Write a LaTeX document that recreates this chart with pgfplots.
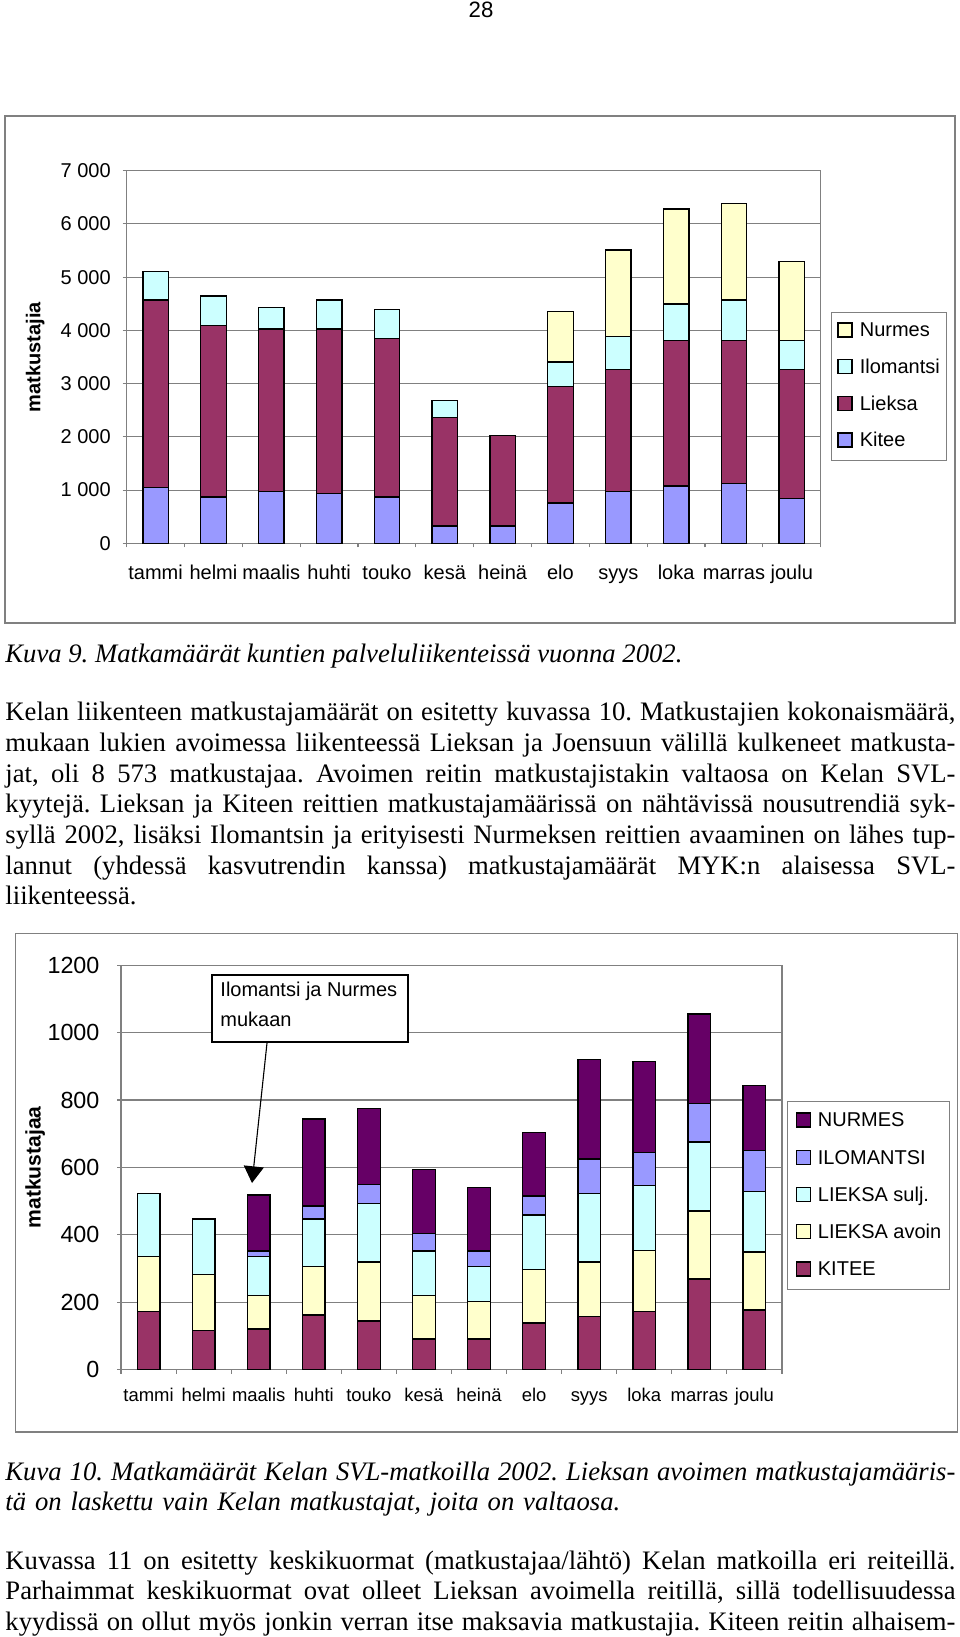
\documentclass[border=0pt]{standalone}
\usepackage{fontspec}
\setmainfont{Liberation Serif}
\setsansfont{Liberation Sans}
\usepackage{pgfplots}
\pgfplotsset{compat=1.18}
\usepackage{pgfplotstable}
\usetikzlibrary{arrows.meta}

\definecolor{xlblue}{HTML}{9999FF}
\definecolor{xlplum}{HTML}{993366}
\definecolor{xlcyan}{HTML}{CCFFFF}
\definecolor{xlcream}{HTML}{FFFFCC}
\definecolor{xlpurple}{HTML}{660066}
\definecolor{xlgray}{HTML}{808080}

% Kuva 9: kuntien palveluliikenne 2002
\pgfplotstableread{
m kitee lieksa ilomantsi nurmes
0  1046 3525 538 0
1  870  3225 551 0
2  977  3049 401 0
3  933  3093 545 0
4  870  2974 545 0
5  326  2034 326 0
6  326  1702 0   0
7  758  2185 463 945
8  977  2291 614 1628
9  1077 2736 682 1785
10 1121 2692 758 1809
11 839  2429 545 1484
}\kunnat

% Kuva 10: Kelan SVL-matkat 2002
\pgfplotstableread{
m kitee avoin sulj ilomantsi nurmes
0  172 164 186 0   0
1  115 168 164 0   0
2  120 99  117 16  166
3  162 144 141 38  259
4  144 175 174 57  224
5  91  128 133 51  191
6  91  111 104 46  189
7  138 158 163 56  189
8  157 162 203 103 295
9  173 181 192 99  269
10 269 202 204 115 265
11 177 172 179 123 193
}\kela

\pgfplotsset{
  excelbars/.style={
    scale only axis, ybar stacked,
    xmin=-0.5, xmax=11.5, ymin=0,
    axis line style={xlgray, line width=0.5pt},
    ymajorgrids, grid style={xlgray, line width=0.5pt},
    tick align=outside, tick pos=left, major tick length=1.8pt,
    tick style={xlgray, line width=0.5pt},
    xtick={-0.5,0.5,1.5,2.5,3.5,4.5,5.5,6.5,7.5,8.5,9.5,10.5,11.5},
    xticklabels={,,,,,,,,,,,,},
    extra x ticks={0,1,2,3,4,5,6,7,8,9,10,11},
    extra x tick labels={tammi,helmi,maalis,huhti,touko,kesä,heinä,elo,syys,loka,marras,joulu},
    extra x tick style={major tick length=0pt, grid=none},
    legend image code/.code={\draw[##1] (0pt,0pt) rectangle (6.3pt,6.3pt);},
    reverse legend,
  },
}

% one justified line of body text
\newcommand\J[1]{{\spaceskip=.25em plus .6em minus .1em\xspaceskip=\spaceskip\makebox[427.5pt][s]{#1}}}
\frenchspacing

\begin{document}
\begin{tikzpicture}[x=0.45pt, y=-0.45pt]
\path[use as bounding box] (0,0) rectangle (960,1637);

\node[anchor=base, inner sep=0pt, font=\sffamily\fontsize{10}{12}\selectfont] at (481,18) {28};

% ---- Kuva 9 ----
\draw[xlgray, line width=0.5pt] (5,116) rectangle (955,623);
\begin{axis}[excelbars,
  at={(57.015pt,-244.485pt)}, anchor=south west,
  width=312.3pt, height=167.67pt,
  ymax=7000, bar width=11.5pt,
  ytick={0,1000,2000,3000,4000,5000,6000,7000},
  yticklabels={0,1 000,2 000,3 000,4 000,5 000,6 000,7 000},
  yticklabel style={font=\sffamily\fontsize{9}{10}\selectfont, anchor=east, inner sep=0pt, xshift=-5.2pt},
  xticklabel style={font=\sffamily\fontsize{9}{10}\selectfont, anchor=base, inner sep=0pt, yshift=-16.5pt},
  ylabel={matkustajia},
  every axis y label/.style={at={(axis description cs:-0.132,0.5)}, rotate=90, anchor=center,
    font=\sffamily\bfseries\fontsize{9}{10}\selectfont},
  legend style={at={(1.0144,0.6216)}, anchor=north west, draw=xlgray, line width=0.5pt,
    font=\sffamily\fontsize{9}{10}\selectfont, inner xsep=2.8pt, inner ysep=4.5pt,
    row sep=8.4pt, column sep=3.15pt,
    nodes={inner sep=0pt, text height=6.5pt, text depth=1.5pt}, cells={anchor=base west}},
]
\addplot[fill=xlblue, draw=black, line width=0.6pt] table[x=m, y=kitee]{\kunnat};
\addlegendentry{Kitee}
\addplot[fill=xlplum, draw=black, line width=0.6pt] table[x=m, y=lieksa]{\kunnat};
\addlegendentry{Lieksa}
\addplot[fill=xlcyan, draw=black, line width=0.6pt] table[x=m, y=ilomantsi]{\kunnat};
\addlegendentry{Ilomantsi}
\addplot[fill=xlcream, draw=black, line width=0.6pt] table[x=m, y=nurmes]{\kunnat};
\addlegendentry{Nurmes}
\end{axis}

\node[anchor=base west, inner sep=0pt, font=\itshape\fontsize{12}{13.82}\selectfont] at (5,662.7)
  {Kuva 9. Matkamäärät kuntien palveluliikenteissä vuonna 2002.};

\node[anchor=base west, inner sep=0pt, text width=427.5pt, font=\fontsize{12}{13.82}\selectfont] at (5,720.7) {%
\J{Kelan liikenteen matkustajamäärät on esitetty kuvassa 10. Matkustajien kokonaismäärä,}\\
\J{mukaan lukien avoimessa liikenteessä Lieksan ja Joensuun välillä kulkeneet matkusta-}\\
\J{jat, oli 8~573 matkustajaa. Avoimen reitin matkustajistakin valtaosa on Kelan SVL-}\\
\J{kyytejä. Lieksan ja Kiteen reittien matkustajamäärissä on nähtävissä nousutrendiä syk-}\\
\J{syllä 2002, lisäksi Ilomantsin ja erityisesti Nurmeksen reittien avaaminen on lähes tup-}\\
\J{lannut (yhdessä kasvutrendin kanssa) matkustajamäärät MYK:n alaisessa SVL-}\\
liikenteessä.};

% ---- Kuva 10 ----
\draw[xlgray, line width=0.5pt] (15.5,933.7) rectangle (957.5,1432);
\begin{axis}[excelbars,
  at={(54.45pt,-616.275pt)}, anchor=south west,
  width=297.45pt, height=181.89pt,
  ymax=1200, bar width=10.2pt,
  ytick={0,200,400,600,800,1000,1200},
  yticklabels={0,200,400,600,800,1000,1200},
  yticklabel style={font=\sffamily\fontsize{10.5}{12}\selectfont, anchor=east, inner sep=0pt, xshift=-7.7pt},
  xticklabel style={font=\sffamily\fontsize{8.3}{10}\selectfont, anchor=base, inner sep=0pt, yshift=-14.5pt},
  ylabel={matkustajaa},
  every axis y label/.style={at={(axis description cs:-0.130,0.5)}, rotate=90, anchor=center,
    font=\sffamily\bfseries\fontsize{9.5}{11}\selectfont},
  legend style={at={(1.00756,0.665)}, anchor=north west, draw=xlgray, line width=0.5pt,
    font=\sffamily\fontsize{9}{10}\selectfont, inner xsep=3.6pt, inner ysep=4.95pt,
    row sep=9.1pt, column sep=3.15pt,
    nodes={inner sep=0pt, text height=6.5pt, text depth=1.05pt}, cells={anchor=base west}},
]
\addplot[fill=xlplum, draw=black, line width=0.6pt] table[x=m, y=kitee]{\kela};
\addlegendentry{KITEE}
\addplot[fill=xlcream, draw=black, line width=0.6pt] table[x=m, y=avoin]{\kela};
\addlegendentry{LIEKSA avoin}
\addplot[fill=xlcyan, draw=black, line width=0.6pt] table[x=m, y=sulj]{\kela};
\addlegendentry{LIEKSA sulj.}
\addplot[fill=xlblue, draw=black, line width=0.6pt] table[x=m, y=ilomantsi]{\kela};
\addlegendentry{ILOMANTSI}
\addplot[fill=xlpurple, draw=black, line width=0.6pt] table[x=m, y=nurmes]{\kela};
\addlegendentry{NURMES}
\end{axis}

% annotation
\draw[black, line width=0.8pt, fill=white] (212,975) rectangle (408,1042);
\node[anchor=base west, inner sep=0pt, font=\sffamily\fontsize{9}{10}\selectfont] at (220,996.7) {Ilomantsi ja Nurmes};
\node[anchor=base west, inner sep=0pt, font=\sffamily\fontsize{9}{10}\selectfont] at (220,1026.7) {mukaan};
\draw[black, line width=0.5pt, -{Triangle[width=9pt,length=7.5pt]}] (267,1043) -- (252,1183);

\node[anchor=base west, inner sep=0pt, text width=427.5pt, font=\itshape\fontsize{12}{13.5}\selectfont] at (5,1480) {%
\J{Kuva 10. Matkamäärät Kelan SVL-matkoilla 2002. Lieksan avoimen matkustajamääris-}\\
tä on laskettu vain Kelan matkustajat, joita on valtaosa.};

\node[anchor=base west, inner sep=0pt, text width=427.5pt, font=\fontsize{12}{13.82}\selectfont] at (5,1569) {%
\J{Kuvassa 11 on esitetty keskikuormat (matkustajaa/lähtö) Kelan matkoilla eri reiteillä.}\\
\J{Parhaimmat keskikuormat ovat olleet Lieksan avoimella reitillä, sillä todellisuudessa}\\
\J{kyydissä on ollut myös jonkin verran itse maksavia matkustajia. Kiteen reitin alhaisem-}};
\end{tikzpicture}
\end{document}
